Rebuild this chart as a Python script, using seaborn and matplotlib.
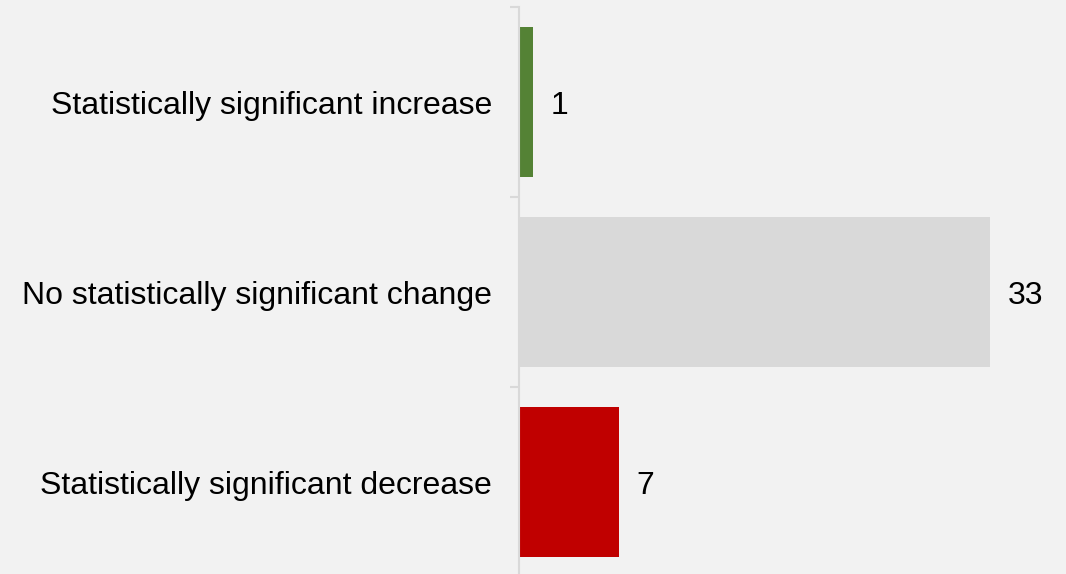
import matplotlib
matplotlib.use("Agg")
import matplotlib.pyplot as plt
import seaborn as sns
import pandas as pd
from matplotlib.ticker import FixedLocator

# Data
categories = ["Statistically significant increase",
              "No statistically significant change",
              "Statistically significant decrease"]
counts = [1, 33, 7]
bar_colors = ["#548235", "#d9d9d9", "#c00000"]

df = pd.DataFrame({"category": categories, "count": counts})

sns.set_theme(style="white")
plt.rcParams["font.family"] = ["Liberation Sans", "DejaVu Sans"]

bg = "#f2f2f2"
fig = plt.figure(figsize=(10.66, 5.74), dpi=100, facecolor=bg)
# axes: left edge at the axis line, top/bottom so that bands are 190 px tall
ax = fig.add_axes([519 / 1066, 1 - 577 / 574, 547 / 1066, 570 / 574])
ax.set_facecolor(bg)

sns.barplot(data=df, x="count", y="category", hue="category",
            palette=bar_colors, orient="h", width=0.79,
            legend=False, ax=ax, saturation=1, linewidth=0)

for i, v in enumerate(counts):
    ax.text(v + 1.25, i, str(v), va="center_baseline", ha="left",
            fontsize=23, color="#000000")

ax.set_xlim(0, 547 / (471 / 33))
ax.set_ylim(2.5, -0.5)
ax.set_xlabel("")
ax.set_ylabel("")
ax.set_xticks([])

for s in ["top", "right", "bottom"]:
    ax.spines[s].set_visible(False)
ax.spines["left"].set_color("#d9d9d9")
ax.spines["left"].set_linewidth(1.5)

ax.tick_params(axis="y", which="major", length=0, pad=19.5,
               labelsize=23, labelcolor="#000000")
for lbl in ax.get_yticklabels():
    lbl.set_verticalalignment("center_baseline")
ax.yaxis.set_minor_locator(FixedLocator([-0.5, 0.5, 1.5, 2.5]))
ax.tick_params(axis="y", which="minor", length=6.5, width=1.5,
               color="#d9d9d9", left=True)

fig.savefig("out.png", dpi=100, facecolor=bg)
